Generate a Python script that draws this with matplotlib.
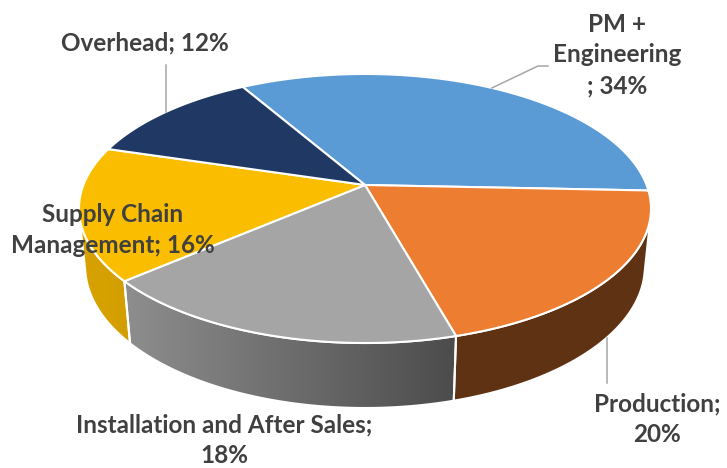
import numpy as np
import matplotlib
matplotlib.use("Agg")
import matplotlib.pyplot as plt
from matplotlib.patches import Polygon
from matplotlib.colors import to_rgb

# ---- data ----
categories = ["PM + Engineering", "Production", "Installation and After Sales",
              "Supply Chain Management", "Overhead"]
values = [34, 20, 18, 16, 12]
labels = ["PM +\nEngineering\n; 34%", "Production;\n20%",
          "Installation and After Sales;\n18%", "Supply Chain\nManagement; 16%",
          "Overhead; 12%"]
colors = ["#5B9BD5", "#ED7D31", "#A5A5A5", "#FBBD00", "#1F3864"]

# ---- style / geometry ----
W, H_PX = 727, 468
START = -30.0            # degrees, clockwise from back
CX, CY = 365.0, 185.0    # projected pie centre
F, A, B = 281.6, 130.4, 249.6
K, M = 0.1747, 0.0913
DEPTH = 0.234
side_shade = [(0.40, 0.40), (0.40, 0.40), (0.86, 0.46), (0.86, 0.84), (0.5, 0.5)]
VIS = (102.9, 257.1)     # visible outer-wall angular range

def proj(theta_deg, z):
    th = np.radians(theta_deg)
    u = np.sin(th)
    v = -np.cos(th)
    w = 1 - K * v - M * z
    return CX + F * u / w, CY + (A * v - B * z) / w

fig = plt.figure(figsize=(W / 100, H_PX / 100), dpi=100)
ax = fig.add_axes([0, 0, 1, 1])
ax.set_xlim(0, W)
ax.set_ylim(H_PX, 0)
ax.axis("off")

total = float(sum(values))
bounds = [START]
for v in values:
    bounds.append(bounds[-1] + 360.0 * v / total)

# outer walls
for i, c in enumerate(colors):
    a0, a1 = bounds[i], bounds[i + 1]
    lo, hi = max(a0, VIS[0]), min(a1, VIS[1])
    if hi <= lo:
        continue
    t = np.linspace(lo, hi, 120)
    xt, yt = proj(t, 0.0)
    xb, yb = proj(t, -DEPTH)
    pts = np.column_stack([np.r_[xt, xb[::-1]], np.r_[yt, yb[::-1]]])
    poly = Polygon(pts, closed=True, facecolor="none", edgecolor="none")
    ax.add_patch(poly)
    x0, x1 = pts[:, 0].min(), pts[:, 0].max()
    y0, y1 = pts[:, 1].min(), pts[:, 1].max()
    base = np.array(to_rgb(c))
    fl, fr = side_shade[i]
    fx = np.linspace(fl, fr, 256)
    img = np.clip(fx[None, :, None] * base[None, None, :], 0, 1)
    im = ax.imshow(img, extent=[x0, x1, y1, y0], aspect="auto", zorder=1,
                   interpolation="bilinear")
    im.set_clip_path(poly)
    ax.add_patch(Polygon(pts, closed=True, facecolor="none", edgecolor="white",
                         lw=1.5, zorder=2))

# top faces
for i, c in enumerate(colors):
    a0, a1 = bounds[i], bounds[i + 1]
    t = np.linspace(a0, a1, 200)
    xt, yt = proj(t, 0.0)
    pts = np.column_stack([np.r_[CX, xt], np.r_[CY, yt]])
    ax.add_patch(Polygon(pts, closed=True, facecolor=c, edgecolor="white",
                         lw=1.5, zorder=3, joinstyle="round"))

# leader lines
lc = "#A6A6A6"
mid = [(bounds[i] + bounds[i + 1]) / 2 for i in range(len(values))]
# Overhead
ox, oy = proj(mid[4], 0.0)
ax.plot([ox, ox], [oy, 65], color=lc, lw=1.1, zorder=4)
# PM + Engineering
px, py = proj(mid[0], 0.0)
ax.plot([px, 538, 548], [py, 66, 66], color=lc, lw=1.1, zorder=4)
# Production
qx, qy = proj(mid[1], -DEPTH)
ax.plot([qx, qx], [qy, 383], color=lc, lw=1.1, zorder=4)

# labels (anchored at the baseline of the last line)
tc = "#404040"
fp = dict(fontfamily="Lato", fontweight="bold", fontsize=17.5, color=tc,
          ha="center", zorder=5, linespacing=1.40)
lab_pos = [(617, 93), (657, 442), (224, 463), (113, 253), (145, 50)]
for lab, (x, y) in zip(labels, lab_pos):
    ax.text(x, y, lab, va="baseline", **fp)

fig.savefig("out.png", dpi=100)
